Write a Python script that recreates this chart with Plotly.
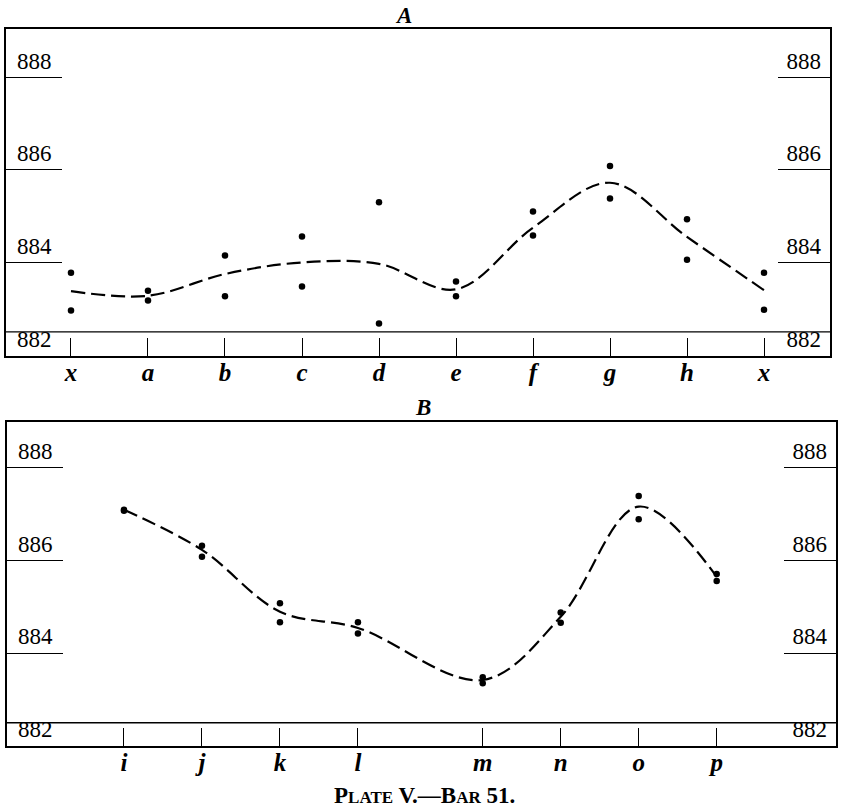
import plotly.graph_objects as go

# ---------------- data ----------------
A_labels = ["x", "a", "b", "c", "d", "e", "f", "g", "h", "x"]
A_pos = [0, 1, 2, 3, 4, 5, 6, 7, 8, 9]
A_upper = [883.78, 883.39, 884.15, 884.56, 885.30, 883.59, 885.10, 886.08, 884.93, 883.78]
A_lower = [882.96, 883.18, 883.27, 883.48, 882.68, 883.27, 884.58, 885.38, 884.06, 882.98]
A_curve = [883.38, 883.28, 883.75, 884.00, 883.97, 883.42, 884.75, 885.72, 884.55, 883.40]

B_labels = ["i", "j", "k", "l", "m", "n", "o", "p"]
B_pos = [0, 1, 2, 3, 4.6, 5.6, 6.6, 7.6]
B_upper = [887.08, 886.31, 885.07, 884.66, 883.48, 884.87, 887.38, 885.70]
B_lower = [887.06, 886.07, 884.66, 884.42, 883.35, 884.65, 886.88, 885.55]
B_curve = [887.08, 886.22, 884.89, 884.54, 883.42, 884.78, 887.15, 885.64]

y_ticks = [882, 884, 886, 888]
baseline = 882.5

# ---------------- figure ----------------
W, H = 841, 808
SERIF = "Liberation Serif, DejaVu Serif, serif"
dot = dict(color="black", size=6.5)
dash = dict(color="black", width=2.2, dash="14px,6px", shape="spline", smoothing=1.0)

fig = go.Figure()

def add_panel(pos, upper, lower, curve, xa, ya, ya_r):
    fig.add_trace(go.Scatter(x=pos, y=curve, mode="lines", line=dash,
                             xaxis=xa, yaxis=ya, hoverinfo="skip"))
    fig.add_trace(go.Scatter(x=pos, y=upper, mode="markers", marker=dot,
                             xaxis=xa, yaxis=ya))
    fig.add_trace(go.Scatter(x=pos, y=lower, mode="markers", marker=dot,
                             xaxis=xa, yaxis=ya))
    # invisible trace so the right-hand axis is drawn
    fig.add_trace(go.Scatter(x=pos, y=curve, mode="markers",
                             marker=dict(opacity=0), xaxis=xa, yaxis=ya_r,
                             hoverinfo="skip"))

add_panel(A_pos, A_upper, A_lower, A_curve, "x", "y", "y3")
add_panel(B_pos, B_upper, B_lower, B_curve, "x2", "y2", "y4")

def dom_x(l, r):
    return [l / W, r / W]

def dom_y(top, bottom):
    return [(H - bottom) / H, (H - top) / H]

xcommon = dict(showgrid=False, zeroline=False, showline=True, mirror=True,
               linecolor="black", linewidth=1.6, ticks="inside", ticklen=18,
               tickcolor="black", tickwidth=1, ticklabelstandoff=-7,
               tickfont=dict(family=SERIF, size=25, color="black"))
ycommon = dict(showgrid=False, zeroline=False, tickvals=y_ticks,
               ticktext=[str(v) for v in y_ticks], ticks="inside",
               tickcolor="black", tickwidth=1, ticklabelposition="inside top",
               tickfont=dict(family=SERIF, size=23, color="black"))

fig.update_layout(
    width=W, height=H, margin=dict(l=0, r=0, t=0, b=0),
    paper_bgcolor="white", plot_bgcolor="white", showlegend=False,
    xaxis=dict(xcommon, domain=dom_x(6, 830), range=[-0.844, 9.857],
               anchor="y", tickvals=A_pos,
               ticktext=[f"<b><i>{t}</i></b>" for t in A_labels]),
    yaxis=dict(ycommon, domain=dom_y(29, 356), range=[881.98, 889.04],
               anchor="x", showline=True, mirror=True, linecolor="black",
               linewidth=1.6, ticklen=56, ticklabelstandoff=12),
    yaxis3=dict(ycommon, overlaying="y", side="right", anchor="x",
                range=[881.98, 889.04], showline=False, ticklen=52,
                ticklabelstandoff=6),
    xaxis2=dict(xcommon, domain=dom_x(7, 836), range=[-1.5, 9.13],
                anchor="y2", tickvals=B_pos,
                ticktext=[f"<b><i>{t}</i></b>" for t in B_labels]),
    yaxis2=dict(ycommon, domain=dom_y(422, 746), range=[882.0, 888.97],
                anchor="x2", showline=True, mirror=True, linecolor="black",
                linewidth=1.6, ticklen=56, ticklabelstandoff=12),
    yaxis4=dict(ycommon, overlaying="y2", side="right", anchor="x2",
                range=[882.0, 888.97], showline=False, ticklen=52,
                ticklabelstandoff=6),
)

for yr in ["y", "y2"]:
    fig.add_shape(type="line", xref=("x domain" if yr == "y" else "x2 domain"),
                  yref=yr, x0=0, x1=1, y0=baseline, y1=baseline,
                  line=dict(color="black", width=1.3))

ann = dict(xref="paper", yref="paper", showarrow=False,
           xanchor="center", yanchor="middle")
fig.add_annotation(ann, text="<b><i>A</i></b>", x=403 / W, y=1 - 15 / H,
                   font=dict(family=SERIF, size=23, color="black"))
fig.add_annotation(ann, text="<b><i>B</i></b>", x=423 / W, y=1 - 407 / H,
                   font=dict(family=SERIF, size=23, color="black"))
fig.add_annotation(
    ann,
    text="<b>P<span style='font-size:17px'>LATE</span> V.—B<span style='font-size:17px'>AR</span> 51.</b>",
    x=424 / W, y=1 - 795 / H,
    font=dict(family=SERIF, size=23, color="black"))

fig.write_html("out.html")
